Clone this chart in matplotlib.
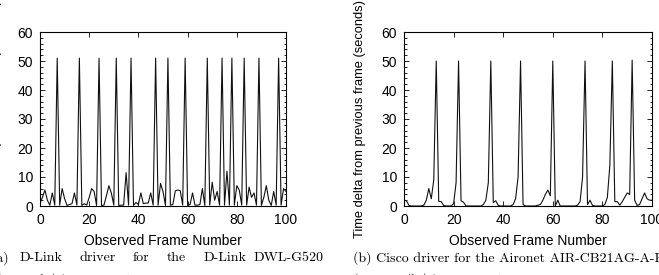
"""inter-frame time deltas for two wireless NIC drivers"""
import numpy as np
import matplotlib
matplotlib.use("Agg")
import matplotlib.pyplot as plt
from matplotlib.ticker import MultipleLocator

# frame numbers 0..100
frames = list(range(101))

# (a) D-Link DWL-G520 driver
dlink_delta = [
    1, 3, 5.5, 2, 0.3, 4.5, 0.3, 51, 0.3, 6,
    2.5, 0.2, 0.5, 0.8, 4.5, 0.3, 51, 0.2, 0.8, 0.3,
    3, 6, 5, 0.2, 51, 0.2, 0.3, 3.5, 7, 4.5,
    0.3, 51, 0.2, 0.3, 0.3, 11.5, 0.3, 51, 0.2, 1.2,
    0.5, 4.5, 0.8, 1, 1, 4.5, 0.3, 51, 0.3, 7.8,
    5, 0.2, 51, 0.3, 0.5, 5.2, 5.5, 5.3, 0.3, 51,
    0.2, 0.5, 4.5, 0.3, 0.3, 0.5, 6, 0.2, 51, 0.3,
    8.2, 2, 5, 0.3, 51, 0.3, 12, 0.3, 51, 0.3,
    7, 5.5, 0.3, 51, 0.3, 6.5, 3, 4.5, 0.3, 51,
    0.2, 3, 7, 2, 0.2, 5, 0.3, 51, 0.3, 6,
    5,
]

# (b) Cisco Aironet AIR-CB21AG-A-K9 driver
cisco_delta = [
    2, 1.8, 0.2, 0, 0, 0, 0, 0, 0.3, 2,
    6, 2.5, 9, 50, 1.6, 1.5, 0.2, 0, 0, 0,
    0.8, 8, 50, 1.8, 1.3, 0, 0, 0, 0, 0,
    0, 0, 0.5, 2, 8, 50, 1.2, 1.8, 0.2, 0,
    0, 0, 0, 0, 0.5, 2.5, 10, 50, 0.5, 0,
    0, 0, 0, 0, 0.3, 0.5, 2, 4, 5.5, 3.5,
    50, 0, 2, 0, 0, 0, 0, 0, 0, 0,
    0.3, 1.5, 10, 50, 0.5, 2, 0.2, 0, 0, 0,
    0, 0.5, 3, 14, 50, 1.5, 1.5, 0.3, 1.5, 3,
    4.5, 4, 50.3, 2, 0.2, 0.5, 2.5, 4.5, 2.5, 2,
    2,
]

ylabel = "Time delta from previous frame (seconds)"
xlabel = "Observed Frame Number"

sans = "Liberation Sans"
serif = "cmr10"

fig = plt.figure(figsize=(6.59, 2.75), dpi=100)
ax1 = fig.add_axes([40 / 659, 69 / 275, 246 / 659, 174 / 275])
ax2 = fig.add_axes([404 / 659, 69 / 275, 248 / 659, 174 / 275])

for ax, ys in ((ax1, dlink_delta), (ax2, cisco_delta)):
    ax.plot(frames, ys, color="#111111", lw=0.8)
    ax.set_xlim(0, 100)
    ax.set_ylim(0, 60)
    ax.xaxis.set_major_locator(MultipleLocator(20))
    ax.yaxis.set_major_locator(MultipleLocator(10))
    ax.yaxis.set_minor_locator(MultipleLocator(2))
    ax.tick_params(which="both", direction="in", top=True, right=True,
                   width=0.6, labelsize=10, pad=5)
    ax.tick_params(which="major", length=3.5)
    ax.tick_params(which="minor", length=1.8)
    for lab in ax.get_xticklabels() + ax.get_yticklabels():
        lab.set_family(sans)
    for sp in ax.spines.values():
        sp.set_linewidth(0.8)
    ax.set_xlabel(xlabel, family=sans, fontsize=10, labelpad=5)
    ax.set_ylabel(ylabel, family=sans, fontsize=9.3)
    ax.yaxis.set_label_coords(-38 / 246, 0.5)

# captions (LaTeX-like serif), the left one is justified word by word
cap_y = 1 - 258 / 275
line2_y = 1 - 280 / 275
words_a = [("(a)", -8), ("D-Link", 20), ("driver", 79), ("for", 133),
           ("the", 167), ("D-Link", 204), ("DWL-G520", 254)]
for w, px in words_a:
    fig.text(px / 659, cap_y, w, family=serif, fontsize=10, va="center")
fig.text(-4 / 659, line2_y, "(802.11b/g) PCI wireless NIC.", family=serif,
         fontsize=10, va="center")
fig.text(353 / 659, cap_y, "(b) Cisco driver for the Aironet AIR-CB21AG-A-K9",
         family=serif, fontsize=10, va="center")
fig.text(353 / 659, line2_y, "(802.11a/b/g) PCI wireless NIC.", family=serif,
         fontsize=10, va="center")

fig.savefig("out.png", dpi=100)
